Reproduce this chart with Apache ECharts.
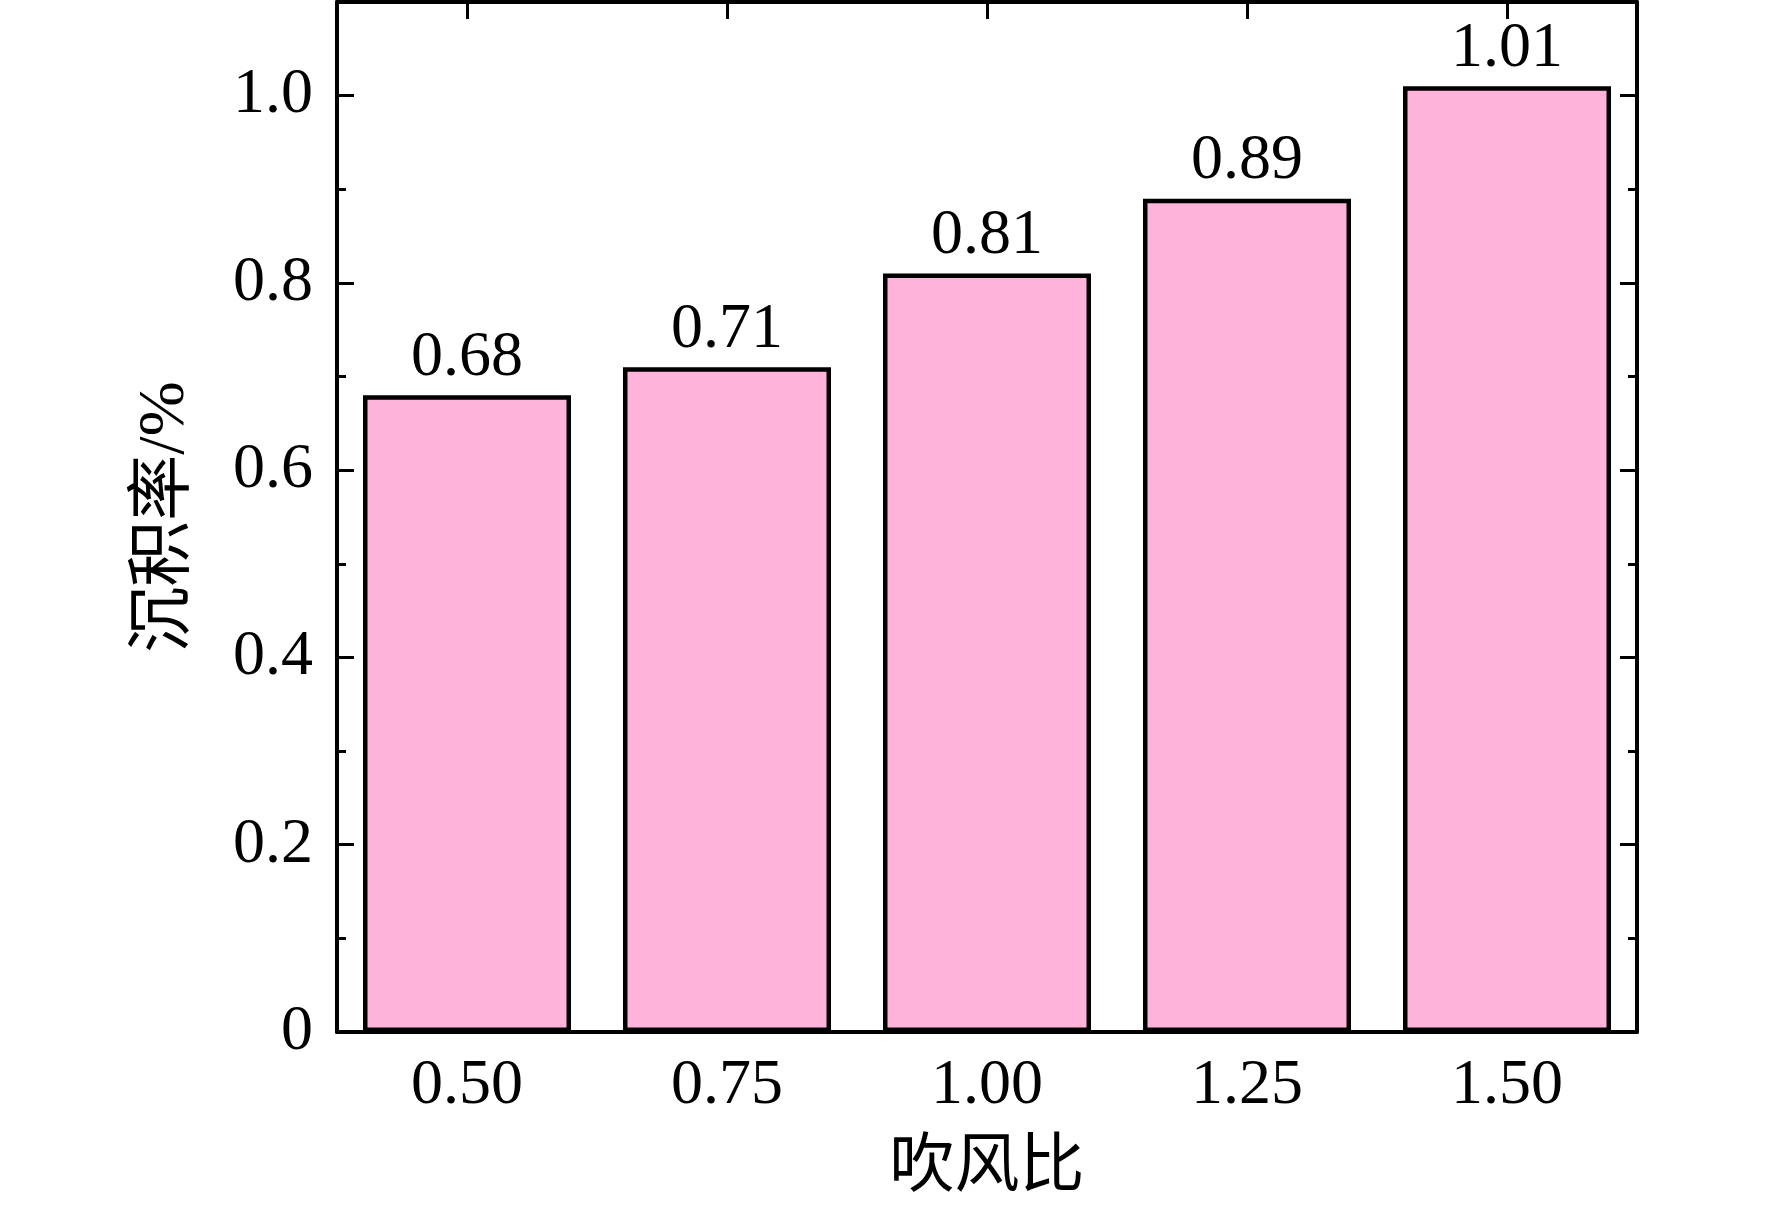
<!DOCTYPE html>
<html><head><meta charset="utf-8">
<script src="https://cdn.jsdelivr.net/npm/echarts@6/dist/echarts.min.js"></script>
<style>html,body{margin:0;padding:0;background:#fff}#c{width:1772px;height:1206px}</style>
</head><body><div id="c"></div>
<script>
const categories = ['0.50', '0.75', '1.00', '1.25', '1.50'];
const values = [0.68, 0.71, 0.81, 0.89, 1.01];
const yTickLabels = ['0', '0.2', '0.4', '0.6', '0.8', '1.0'];
const xName = '吹风比';
const yName = '沉积率/%';

const FONT = '"Liberation Serif", "Times New Roman", "Noto Sans CJK SC", serif';
const chart = echarts.init(document.getElementById('c'));
const lineStyle = { color: '#000', width: 4 };
function yAx(pos, interval, len, showLabel, showLine) {
  return {
    type: 'value', position: pos, min: 0, max: 1.1, interval: interval,
    axisLine: { show: showLine, onZero: false, lineStyle: lineStyle },
    axisTick: { show: true, inside: true, length: len, lineStyle: { color: '#000', width: 3 } },
    splitLine: { show: false },
    axisLabel: showLabel ? {
      show: true, margin: 24, fontFamily: FONT, fontSize: 64, color: '#000', showMaxLabel: false,
      formatter: function (v) { const i = Math.round(v / 0.2); return (Math.abs(v - i * 0.2) < 1e-6 && i < yTickLabels.length) ? yTickLabels[i] : ''; }
    } : { show: false }
  };
}
const yAxes = [
  Object.assign(yAx('left', 0.2, 17, true, true), {
    name: yName, nameLocation: 'middle', nameGap: 138, nameRotate: 90,
    nameTextStyle: { fontFamily: FONT, fontSize: 66, color: '#000' }
  }),
  yAx('left', 0.1, 9, false, false),
  yAx('right', 0.2, 17, false, true),
  yAx('right', 0.1, 9, false, false)
];
chart.setOption({
  animation: false,
  grid: { left: 337, right: 135, top: 2, bottom: 174, containLabel: false, outerBoundsMode: 'none' },
  xAxis: [{
    type: 'category', data: categories, position: 'bottom',
    axisLine: { show: true, onZero: false, lineStyle: lineStyle },
    axisTick: { show: true, inside: true, alignWithLabel: true, length: 17, lineStyle: { color: '#000', width: 3 } },
    axisLabel: { fontFamily: FONT, fontSize: 64, color: '#000', margin: 22 },
    name: xName, nameLocation: 'middle', nameGap: 104,
    nameTextStyle: { fontFamily: FONT, fontSize: 65, color: '#000' }
  }, {
    type: 'category', data: categories, position: 'top',
    axisLine: { show: true, onZero: false, lineStyle: lineStyle },
    axisTick: { show: true, inside: true, alignWithLabel: true, length: 17, lineStyle: { color: '#000', width: 3 } },
    axisLabel: { show: false }
  }],
  yAxis: yAxes,
  series: [{
    type: 'bar', data: values, xAxisIndex: 0, yAxisIndex: 0,
    barCategoryGap: '20%',
    itemStyle: { color: '#FFB3DB', borderColor: '#000', borderWidth: 4.5 },
    label: {
      show: true, position: 'top', distance: 5, fontFamily: FONT, fontSize: 64, color: '#000',
      formatter: function (p) { return p.value.toFixed(2); }
    }
  }]
});
</script></body></html>
